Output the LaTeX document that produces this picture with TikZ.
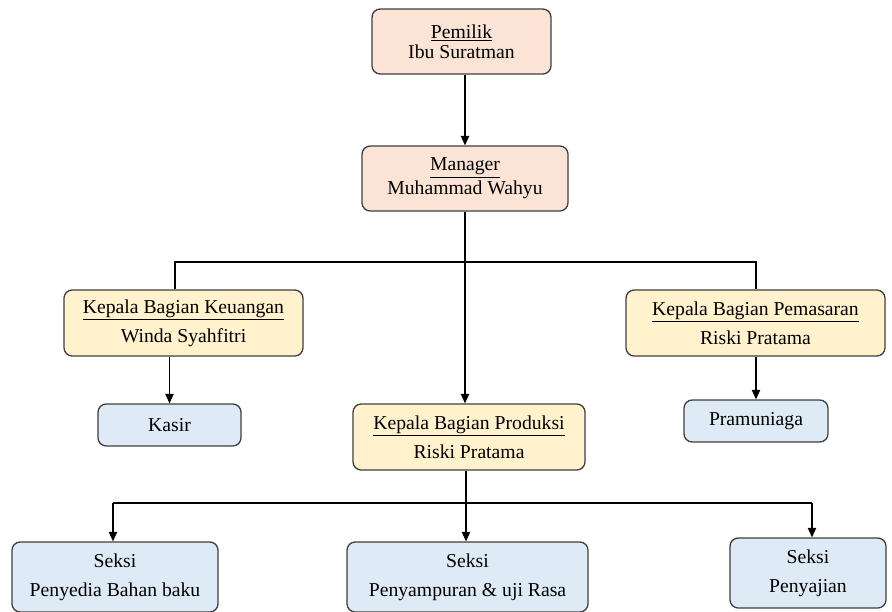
\documentclass[tikz,border=0pt]{standalone}
\usepackage{fontspec}
\setmainfont{Liberation Serif}
\usepackage{xcolor}
\usetikzlibrary{arrows.meta, positioning}
\definecolor{peach}{HTML}{FBE4D5}
\definecolor{cream}{HTML}{FFF2CC}
\definecolor{paleblue}{HTML}{DEEAF6}
\definecolor{edge}{HTML}{3F3F3F}

\begin{document}
\begin{tikzpicture}[
    x=0.3mm, y=-0.3mm,
    box/.style={draw=edge, line width=1.1pt, rounded corners=7pt, inner sep=0pt,
                align=center, font=\fontsize{16.8}{24.7}\selectfont},
    head/.style={box, fill=peach, minimum height=19.5mm},
    chief/.style={box, fill=cream, minimum height=19.8mm},
    unit/.style={box, fill=paleblue},
    arrow/.style={-{Triangle[length=8pt,width=7pt]}, line width=1pt},
    link/.style={line width=1pt}
  ]
    \useasboundingbox (0,0) rectangle (892,612);

    \node[head, minimum width=53.7mm, font=\fontsize{16.8}{17}\selectfont]
          (owner) at (461.5,41.5) {\underline{Pemilik}\\Ibu Suratman};
    \node[head, minimum width=61.8mm, font=\fontsize{16.8}{20.4}\selectfont]
          (mgr) at (465,178.5) {\underline{Manager}\\Muhammad Wahyu};

    \node[chief, minimum width=71.7mm] (keu) at (183.5,323)
          {\underline{Kepala Bagian Keuangan}\\Winda Syahfitri};
    \node[chief, minimum width=77.7mm] (pms) at (755.5,323)
          {\underline{Kepala Bagian Pemasaran}\\Riski Pratama};
    \node[chief, minimum width=69.6mm] (prod) at (469,437)
          {\underline{Kepala Bagian Produksi}\\Riski Pratama};

    \node[unit, minimum width=42.9mm, minimum height=12.6mm] (kasir) at (169.5,425) {Kasir};
    \node[unit, minimum width=43.2mm, minimum height=12.6mm] (pramu) at (756,421) {Pramuniaga};

    \node[unit, minimum width=61.8mm, minimum height=21mm] (bahan) at (115,577)
          {Seksi\\Penyedia Bahan baku};
    \node[unit, minimum width=72.3mm, minimum height=21mm] (campur) at (467.5,577)
          {Seksi\\Penyampuran \& uji Rasa};
    \node[unit, minimum width=46.8mm, minimum height=21mm] (saji) at (808,573)
          {Seksi\\Penyajian};

    \coordinate (jl) at (175,262);
    \coordinate (jr) at (756,262);
    \coordinate (bl) at (113,503);
    \coordinate (bm) at (466,503);
    \coordinate (br) at (812,503);

    \draw[arrow] (mgr.north |- owner.south) -- (mgr.north);
    \draw[arrow] (mgr.south) -- (mgr.south |- prod.north);
    \draw[link] (keu.north -| jl) -- (jl) -- (jr) -- (pms.north -| jr);
    \draw[arrow] (kasir.north |- keu.south) -- (kasir.north);
    \draw[arrow] (pramu.north |- pms.south) -- (pramu.north);

    \draw[link] (prod.south -| bm) -- (bm);
    \draw[link] (bl) -- (br);
    \draw[arrow] (bl) -- (bl |- bahan.north);
    \draw[arrow] (bm) -- (bm |- campur.north);
    \draw[arrow] (br) -- (br |- saji.north);
  \end{tikzpicture}
\end{document}
